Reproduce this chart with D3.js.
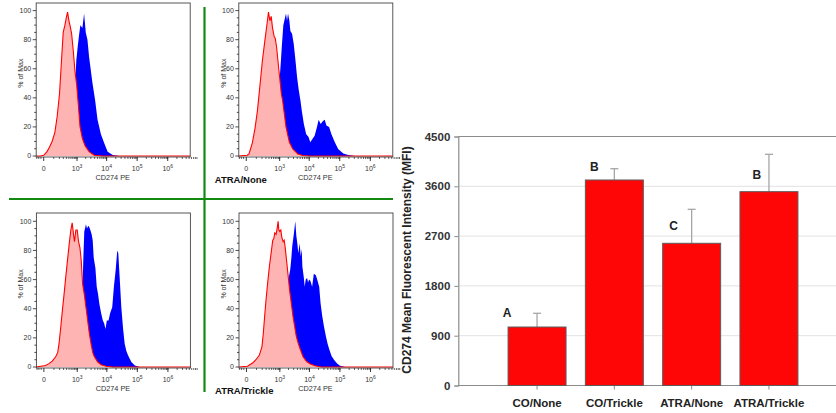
<!DOCTYPE html>
<html>
<head>
<meta charset="utf-8">
<script src="https://cdn.jsdelivr.net/npm/d3@7"></script>
<style>
  body { margin: 0; background: #fff; }
  text { font-family: "Liberation Sans", Arial, sans-serif; }
</style>
</head>
<body>
<svg id="chart" width="836" height="413"></svg>
<script>
// ---- bar chart data (MFI) ----
const groups = ["CO/None", "CO/Trickle", "ATRA/None", "ATRA/Trickle"];
const mfiMean = [1057, 3714, 2570, 3503];
const mfiErr = [248, 204, 614, 675];
const sigLetters = ["A", "B", "C", "B"];
const sigLetterLevel = [1310, 3954, 2882, 3804];
const mfiTicks = [0, 900, 1800, 2700, 3600, 4500];

// ---- histogram data: [CD274 PE value, % of Max] ----
const isoCONone = [[-70,0],[-25,0],[0,0.5],[25,3],[48,6],[78,10],[116,16],[155,27],[203,43],[250,66],[296,85],[348,90],[395,95],[446,99],[503,93],[566,89],[636,84],[734,72],[845,58],[971,49],[1113,35],[1276,20],[1541,12],[1906,7],[2615,3],[3865,0.5],[7355,0],[6e6,0]];
const cd274CONone = [[-70,0],[250,0],[371,2],[583,10],[776,35],[944,66],[1054,75],[1176,83],[1311,90],[1541,88],[1760,98],[2012,85],[2294,80],[2615,68],[3395,50],[4178,38],[5004,25],[6470,15],[8363,8.7],[10800,3],[15830,0.7],[26330,0],[6e6,0]];

const isoATRANone = [[-70,0],[7,0.5],[20,1.5],[51,9],[82,19],[116,31],[155,47],[210,66],[268,79],[316,88],[382,99],[433,93],[488,96],[550,88],[636,82],[693,81],[776,75],[919,61],[1027,52],[1144,43],[1276,38],[1460,29],[1669,20],[2176,9.4],[2829,4.8],[4178,1.4],[6150,0.3],[10260,0],[6e6,0]];
const cd274ATRANone = [[-70,0],[348,0.5],[550,8],[776,30],[1027,56],[1113,66],[1209,77],[1347,90],[1541,95],[1669,98],[1808,93],[1957,98],[2176,93],[2354,86],[2684,84],[3058,77],[3483,66],[3965,54],[4514,45],[5133,38],[5692,31],[6640,22],[7948,15],[9505,13],[10800,9.4],[12590,11.5],[15050,14],[17980,20],[20420,25],[23800,22],[28400,24],[32270,25],[36640,21],[44900,20],[53600,15],[69100,9.4],[89000,4.8],[130200,1.8],[190500,0.7],[316100,0],[6e6,0]];

const isoCOTrickle = [[-70,0],[12,1],[41,2.3],[78,4],[126,7],[162,10],[188,16],[225,27],[268,39],[316,50],[371,62],[433,73],[503,84],[583,94],[655,99],[734,91],[798,86],[893,94],[998,94],[1113,86],[1242,82],[1383,73],[1541,57],[1760,50],[2012,41],[2294,32],[2615,23],[2981,16],[3395,10],[3865,7],[5004,3.4],[6470,1.6],[9505,0.5],[15830,0],[6e6,0]];
const cd274COTrickle = [[-70,0],[433,0.5],[673,5],[1027,18],[1347,40],[1541,55],[1625,73],[1760,93],[2012,98],[2176,95],[2416,97],[2615,96],[2829,94],[3140,91],[3395,87],[3672,75],[4178,68],[4631,55],[5133,50],[5692,43],[6470,37],[7355,32],[8150,30],[9030,26],[9998,32],[11370,32],[12910,37],[15050,41],[17080,55],[19410,66],[22040,80],[23800,78],[26330,62],[29930,41],[33950,27],[38540,16],[43770,11],[49680,8],[56400,5.7],[64020,3.4],[82500,1.1],[120700,0],[6e6,0]];

const isoATRATrickle = [[-70,0],[7,0.5],[51,2.7],[91,5],[143,8],[195,14],[225,23],[259,35],[296,46],[348,58],[407,69],[474,78],[550,87],[600,88],[655,92],[734,91],[798,95],[868,100],[919,94],[998,93],[1083,94],[1176,89],[1311,86],[1421,87],[1541,82],[1760,71],[1957,62],[2176,53],[2481,44],[2829,35],[3222,28],[3672,21],[4283,16],[5004,12],[6150,7],[7948,3.9],[10260,2.3],[15050,0.9],[25030,0],[6e6,0]];
const cd274ATRATrickle = [[-70,0],[550,1],[845,6],[1276,20],[1669,40],[2063,62],[2294,67],[2481,74],[2684,83],[2981,90],[3395,100],[3672,90],[3965,85],[4283,78],[4752,85],[5133,76],[5550,81],[5840,69],[6470,62],[6990,55],[7550,60],[8363,61],[9030,58],[9750,60],[10800,59],[12270,55],[13940,64],[16240,63],[17980,60],[20950,55],[23190,44],[26330,35],[29930,28],[34830,21],[39550,16],[44900,12],[53600,7.3],[65700,4.6],[82500,2.3],[101100,0.9],[147800,0],[6e6,0]];

const pctTicks = [0, 20, 40, 60, 80, 100];
const peTicks = [0, 1e3, 1e4, 1e5, 1e6];
const peExp = ["", "3", "4", "5", "6"];

const svg = d3.select("#chart");

// ---------------- histograms ----------------
const panels = [
  {left: 36.2, top: 3, y0: 156, y100: 10.6, iso: isoCONone, pos: cd274CONone, label: ""},
  {left: 238.8, top: 3, y0: 156, y100: 10.6, iso: isoATRANone, pos: cd274ATRANone, label: "ATRA/None"},
  {left: 36.4, top: 213, y0: 367, y100: 221.3, iso: isoCOTrickle, pos: cd274COTrickle, label: ""},
  {left: 239, top: 213, y0: 367, y100: 221.3, iso: isoATRATrickle, pos: cd274ATRATrickle, label: "ATRA/Trickle"}
];
const boxW = 154;

panels.forEach((p, i) => {
  const x = d3.scaleSymlog().constant(88.5).domain([-67, 5.43e6]).range([p.left, p.left + boxW]);
  const y = d3.scaleLinear().domain([0, 100]).range([p.y0, p.y100]);
  const bottom = p.y0 + 1;
  const g = svg.append("g");

  g.append("clipPath").attr("id", "clip" + i)
    .append("rect").attr("x", p.left).attr("y", p.top).attr("width", boxW).attr("height", bottom - p.top);

  const area = d3.area().x(d => x(d[0])).y0(y(0)).y1(d => y(d[1]));
  const line = d3.line().x(d => x(d[0])).y(d => y(d[1]));

  const plot = g.append("g").attr("clip-path", `url(#clip${i})`);
  plot.append("path").datum(p.pos).attr("d", area).attr("fill", "#0000ff");
  plot.append("path").datum(p.iso).attr("d", area).attr("fill", "#ffb4b4");
  plot.append("path").datum(p.iso).attr("d", line).attr("fill", "none")
    .attr("stroke", "#ff0000").attr("stroke-width", 1.1);

  g.append("rect").attr("x", p.left).attr("y", p.top).attr("width", boxW).attr("height", bottom - p.top)
    .attr("fill", "none").attr("stroke", "#444").attr("stroke-width", 0.9);

  // y ticks
  const yMinor = d3.range(0, 101, 5);
  g.selectAll(".ymin").data(yMinor).join("line")
    .attr("x1", d => p.left - (d % 20 === 0 ? 3.5 : 2)).attr("x2", p.left)
    .attr("y1", d => y(d)).attr("y2", d => y(d)).attr("stroke", "#222").attr("stroke-width", 0.8);
  g.selectAll(".ylab").data(pctTicks).join("text")
    .attr("x", p.left - 5).attr("y", d => y(d)).attr("dy", "0.35em")
    .attr("text-anchor", "end").attr("font-size", 7).attr("fill", "#333").text(d => d);

  // x ticks (major + log minor)
  const xMinor = [];
  for (let e = 2; e <= 6; e++) for (let m = 1; m <= 9; m++) xMinor.push(m * Math.pow(10, e));
  xMinor.push(-20, -40, -60);
  g.selectAll(".xmin").data(xMinor).join("line")
    .attr("x1", d => x(d)).attr("x2", d => x(d)).attr("y1", bottom).attr("y2", bottom + 2)
    .attr("stroke", "#222").attr("stroke-width", 0.7);
  g.selectAll(".xmaj").data(peTicks).join("line")
    .attr("x1", d => x(d)).attr("x2", d => x(d)).attr("y1", bottom).attr("y2", bottom + 4)
    .attr("stroke", "#222").attr("stroke-width", 0.9);
  const xl = g.selectAll(".xlab").data(peTicks).join("text")
    .attr("x", d => x(d)).attr("y", bottom + 14).attr("text-anchor", "middle")
    .attr("font-size", 7).attr("fill", "#333");
  xl.each(function(d, k) {
    const t = d3.select(this);
    if (d === 0) { t.text("0"); return; }
    t.append("tspan").text("10");
    t.append("tspan").attr("font-size", 5).attr("dy", -3).text(peExp[k]);
  });

  g.append("text").attr("x", p.left + boxW / 2 - 0.5).attr("y", bottom + 22.5)
    .attr("text-anchor", "middle").attr("font-size", 7.3).attr("fill", "#333").text("CD274 PE");

  g.append("text").attr("transform", `translate(${p.left - 13},${y(57)}) rotate(-90)`)
    .attr("text-anchor", "middle").attr("font-size", 7).attr("fill", "#333").text("% of Max");

  if (p.label) {
    g.append("text").attr("x", p.left - 24).attr("y", bottom + 26)
      .attr("font-size", 9.5).attr("font-weight", "bold").attr("fill", "#111").text(p.label);
  }
});

// green separators
svg.append("line").attr("x1", 9).attr("x2", 393).attr("y1", 199).attr("y2", 199)
  .attr("stroke", "#128a12").attr("stroke-width", 2.2);
svg.append("line").attr("x1", 204.5).attr("x2", 204.5).attr("y1", 7).attr("y2", 392)
  .attr("stroke", "#128a12").attr("stroke-width", 2.2);

// ---------------- bar chart ----------------
const plotL = 458.3, plotR = 836, plotT = 136.5, plotB = 385.5;
const yb = d3.scaleLinear().domain([0, 4500]).range([plotB, plotT]);
const xb = d3.scaleBand().domain(groups).range([498.4, 807.6]).paddingInner(0.25).paddingOuter(0.125);

const bc = svg.append("g");
bc.selectAll(".grid").data(mfiTicks.filter(d => d > 0 && d < 4500)).join("line")
  .attr("x1", plotL).attr("x2", plotR).attr("y1", d => yb(d)).attr("y2", d => yb(d))
  .attr("stroke", "#e2e2e2").attr("stroke-width", 1);
bc.append("line").attr("x1", plotL).attr("x2", plotR).attr("y1", yb(4500)).attr("y2", yb(4500))
  .attr("stroke", "#8c8c8c").attr("stroke-width", 1.2);
bc.append("line").attr("x1", plotL).attr("x2", plotR).attr("y1", plotB).attr("y2", plotB)
  .attr("stroke", "#8c8c8c").attr("stroke-width", 1.2);

const yAxis = bc.append("g").attr("transform", `translate(${plotL},0)`)
  .call(d3.axisLeft(yb).tickValues(mfiTicks).tickFormat(d3.format("d")).tickSize(4).tickPadding(4));
yAxis.select(".domain").attr("stroke", "#8c8c8c").attr("stroke-width", 1.2);
yAxis.selectAll(".tick line").attr("stroke", "#8c8c8c");
yAxis.selectAll(".tick text").attr("font-size", 11.5).attr("font-weight", "bold")
  .attr("fill", "#333").attr("font-family", "Liberation Sans, Arial, sans-serif");

const xAxis = bc.append("g").attr("transform", `translate(0,${plotB})`)
  .call(d3.axisBottom(xb).tickSize(4).tickPadding(9.5));
xAxis.select(".domain").remove();
xAxis.selectAll(".tick line").attr("stroke", "#8c8c8c");
xAxis.selectAll(".tick text").attr("font-size", 11.5).attr("font-weight", "bold")
  .attr("fill", "#222").attr("font-family", "Liberation Sans, Arial, sans-serif");

// error bars
bc.selectAll(".err").data(groups).join("line")
  .attr("x1", d => xb(d) + xb.bandwidth() / 2).attr("x2", d => xb(d) + xb.bandwidth() / 2)
  .attr("y1", (d, i) => yb(mfiMean[i])).attr("y2", (d, i) => yb(mfiMean[i] + mfiErr[i]))
  .attr("stroke", "#a6a6a6").attr("stroke-width", 1.3);
bc.selectAll(".cap").data(groups).join("line")
  .attr("x1", d => xb(d) + xb.bandwidth() / 2 - 4).attr("x2", d => xb(d) + xb.bandwidth() / 2 + 4)
  .attr("y1", (d, i) => yb(mfiMean[i] + mfiErr[i])).attr("y2", (d, i) => yb(mfiMean[i] + mfiErr[i]))
  .attr("stroke", "#a6a6a6").attr("stroke-width", 1.3);

bc.selectAll(".bar").data(groups).join("rect")
  .attr("x", d => xb(d)).attr("width", xb.bandwidth())
  .attr("y", (d, i) => yb(mfiMean[i])).attr("height", (d, i) => plotB - yb(mfiMean[i]))
  .attr("fill", "#fe0606").attr("stroke", "#5c5c5c").attr("stroke-width", 1);

const letterDx = [-30, -20, -18, -12];
bc.selectAll(".sig").data(groups).join("text")
  .attr("x", (d, i) => xb(d) + xb.bandwidth() / 2 + letterDx[i])
  .attr("y", (d, i) => yb(sigLetterLevel[i])).attr("dy", "0.36em")
  .attr("text-anchor", "middle").attr("font-size", 12).attr("font-weight", "bold")
  .attr("fill", "#222").text((d, i) => sigLetters[i]);

bc.append("text").attr("transform", `translate(${411},${260}) rotate(-90)`)
  .attr("text-anchor", "middle").attr("font-size", 12).attr("font-weight", "bold")
  .attr("fill", "#222").text("CD274 Mean Fluorescent Intensity (MFI)");
</script>
</body>
</html>
